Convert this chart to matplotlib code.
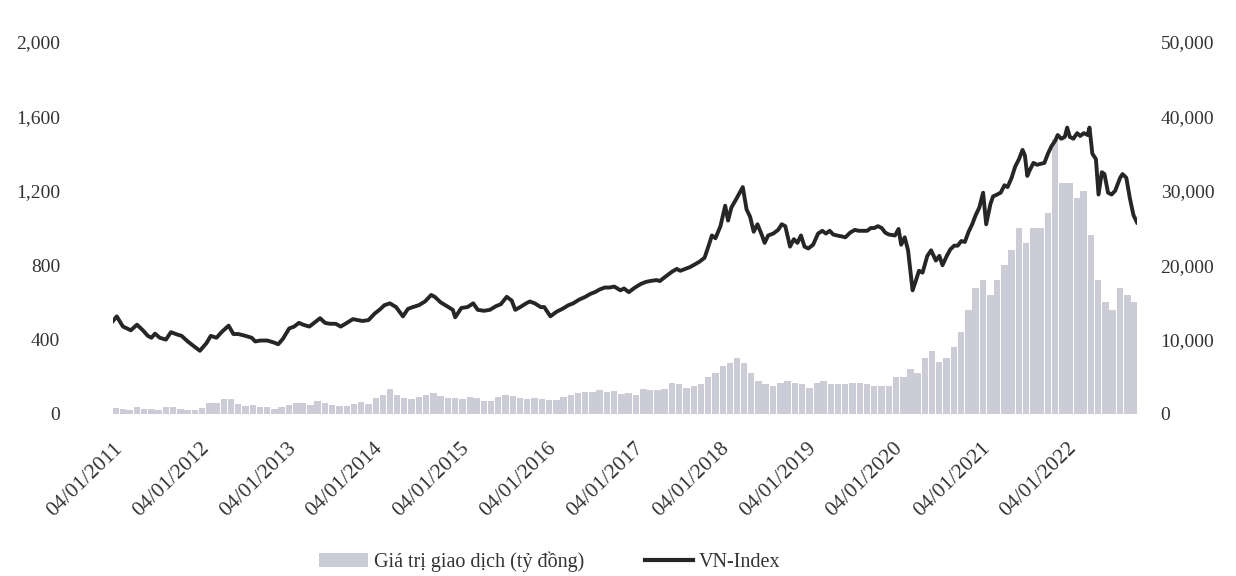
import pandas as pd
import matplotlib
matplotlib.use("Agg")
import matplotlib.pyplot as plt
import matplotlib.dates as mdates
from matplotlib.patches import Patch
from matplotlib.lines import Line2D

# VN-Index
index_dates = [
    "2011-01-04", "2011-01-20", "2011-02-15", "2011-03-01", "2011-03-20", "2011-04-15",
    "2011-05-10", "2011-05-31", "2011-06-15", "2011-06-30", "2011-07-20", "2011-08-15",
    "2011-09-05", "2011-09-30", "2011-10-20", "2011-11-15", "2011-12-15",
    "2012-01-05", "2012-02-01", "2012-02-20", "2012-03-15", "2012-04-05", "2012-05-05",
    "2012-05-25", "2012-06-15", "2012-07-15", "2012-08-10", "2012-08-25", "2012-09-15",
    "2012-10-15", "2012-11-10", "2012-11-30", "2012-12-20",
    "2013-01-15", "2013-02-05", "2013-02-25", "2013-03-15", "2013-04-10", "2013-05-10",
    "2013-05-25", "2013-06-15", "2013-07-05", "2013-07-30", "2013-08-20", "2013-09-15",
    "2013-10-10", "2013-10-30", "2013-11-20", "2013-12-15",
    "2014-01-10", "2014-01-30", "2014-02-20", "2014-03-15", "2014-04-10", "2014-05-09",
    "2014-05-30", "2014-06-20", "2014-07-15", "2014-08-10", "2014-09-05", "2014-09-20",
    "2014-10-15", "2014-11-10", "2014-12-05", "2014-12-15",
    "2015-01-10", "2015-02-05", "2015-03-01", "2015-03-20", "2015-04-15", "2015-05-10",
    "2015-06-05", "2015-06-25", "2015-07-20", "2015-08-10", "2015-08-25", "2015-09-15",
    "2015-10-10", "2015-10-25", "2015-11-15", "2015-12-10", "2015-12-25",
    "2016-01-20", "2016-02-15", "2016-03-10", "2016-04-05", "2016-04-25", "2016-05-20",
    "2016-06-15", "2016-07-05", "2016-07-25", "2016-08-15", "2016-09-05", "2016-09-25",
    "2016-10-15", "2016-11-10", "2016-11-25", "2016-12-15",
    "2017-01-10", "2017-02-05", "2017-02-25", "2017-03-15", "2017-04-10", "2017-04-25",
    "2017-05-20", "2017-06-15", "2017-07-05", "2017-07-20", "2017-08-10", "2017-08-30",
    "2017-09-20", "2017-10-10", "2017-10-30", "2017-11-15", "2017-11-30", "2017-12-15",
    "2018-01-05", "2018-01-25", "2018-02-06", "2018-02-20", "2018-03-10", "2018-04-09",
    "2018-04-25", "2018-05-10", "2018-05-25", "2018-06-10", "2018-06-29", "2018-07-10",
    "2018-07-25", "2018-08-15", "2018-09-05", "2018-09-20", "2018-10-05", "2018-10-25",
    "2018-11-10", "2018-11-25", "2018-12-10", "2018-12-25",
    "2019-01-10", "2019-01-30", "2019-02-20", "2019-03-10", "2019-03-25", "2019-04-10",
    "2019-04-25", "2019-05-10", "2019-05-30", "2019-06-15", "2019-07-05", "2019-07-25",
    "2019-08-10", "2019-08-30", "2019-09-15", "2019-09-30", "2019-10-15", "2019-10-30",
    "2019-11-15", "2019-11-30", "2019-12-15",
    "2020-01-10", "2020-01-25", "2020-02-05", "2020-02-20", "2020-03-05", "2020-03-24",
    "2020-04-05", "2020-04-20", "2020-05-05", "2020-05-25", "2020-06-10", "2020-06-30",
    "2020-07-15", "2020-07-28", "2020-08-15", "2020-08-30", "2020-09-15", "2020-09-30",
    "2020-10-15", "2020-10-30", "2020-11-15", "2020-11-30", "2020-12-15", "2020-12-30",
    "2021-01-15", "2021-01-28", "2021-02-15", "2021-02-26", "2021-03-15", "2021-03-30",
    "2021-04-15", "2021-04-28", "2021-05-15", "2021-05-30", "2021-06-15", "2021-06-30",
    "2021-07-10", "2021-07-20", "2021-07-30", "2021-08-15", "2021-08-30", "2021-09-15",
    "2021-09-30", "2021-10-15", "2021-10-30", "2021-11-15", "2021-11-25", "2021-12-10",
    "2021-12-25",
    "2022-01-04", "2022-01-15", "2022-01-30", "2022-02-15", "2022-02-28", "2022-03-15",
    "2022-03-31", "2022-04-08", "2022-04-20", "2022-05-05", "2022-05-16", "2022-05-30",
    "2022-06-10", "2022-06-25", "2022-07-10", "2022-07-25", "2022-08-15", "2022-08-25",
    "2022-09-10", "2022-09-25", "2022-10-10", "2022-10-25",
]
index_values = [
    500, 525, 470, 462, 450, 480, 450, 420, 410, 432, 410, 400, 440, 428, 420, 390, 360,
    340, 380, 420, 410, 440, 475, 430, 430, 420, 410, 390, 395, 395, 385, 375, 405,
    460, 470, 490, 480, 470, 500, 515, 490, 485, 485, 470, 490, 510, 505, 500, 505,
    540, 560, 585, 595, 575, 525, 565, 575, 585, 605, 640, 630, 600, 580, 560, 520,
    570, 575, 595, 560, 555, 560, 580, 590, 630, 610, 560, 575, 595, 605, 595, 575, 575,
    525, 550, 565, 585, 595, 615, 630, 645, 655, 670, 680, 680, 685, 665, 675, 655,
    680, 700, 710, 715, 720, 715, 740, 765, 780, 770, 780, 790, 805, 820, 840, 900, 960, 945,
    1010, 1120, 1040, 1110, 1150, 1220, 1100, 1060, 980, 1020, 960, 920, 960, 970, 990,
    1020, 1010, 900, 940, 920, 960, 900,
    890, 910, 970, 985, 970, 985, 965, 960, 955, 950, 975, 990, 985, 985, 985, 1000,
    1000, 1010, 1000, 975, 965,
    960, 995, 910, 950, 880, 665, 710, 770, 760, 850, 880, 825, 850, 800, 850, 885,
    905, 905, 930, 925, 980, 1020, 1070, 1110,
    1190, 1020, 1130, 1170, 1180, 1190, 1230, 1220, 1270, 1330, 1370, 1420, 1390, 1280,
    1310, 1350, 1340, 1345, 1350, 1400, 1440, 1470, 1500, 1480, 1490,
    1540, 1490, 1480, 1510, 1495, 1510, 1500, 1540, 1400, 1370, 1180, 1300, 1290, 1190,
    1180, 1200, 1270, 1290, 1270, 1160, 1070, 1030,
]

# Giá trị giao dịch (tỷ đồng), monthly from 01/2011
value_start = "2011-01-01"
trade_values = [
    800, 700, 600, 900, 700, 700, 600, 900, 1000, 700, 600, 600,
    800, 1500, 1500, 2000, 2000, 1300, 1100, 1200, 900, 900, 700, 1000,
    1200, 1500, 1500, 1200, 1700, 1500, 1200, 1100, 1100, 1400, 1600, 1300,
    2200, 2500, 3400, 2600, 2200, 2000, 2300, 2600, 2800, 2400, 2200, 2100,
    2000, 2300, 2200, 1800, 1700, 2300, 2600, 2400, 2100, 2000, 2200, 2000,
    1900, 1900, 2300, 2600, 2800, 2900, 3000, 3200, 3000, 3100, 2700, 2800,
    2600, 3300, 3200, 3200, 3400, 4200, 4000, 3500, 3700, 4000, 5000, 5500,
    6500, 6800, 7500, 6800, 5500, 4500, 4000, 3700, 4200, 4500, 4200, 4000,
    3500, 4200, 4500, 4000, 4000, 4000, 4200, 4200, 4000, 3800, 3800, 3800,
    5000, 5000, 6000, 5500, 7500, 8500, 7000, 7500, 9000, 11000, 14000, 17000,
    18000, 16000, 18000, 20000, 22000, 25000, 23000, 25000, 25000, 27000, 37000, 31000,
    31000, 29000, 30000, 24000, 18000, 15000, 14000, 17000, 16000, 15000,
]

year_ticks = ["%d-01-04" % y for y in range(2011, 2023)]

plt.rcParams['font.family'] = ['Liberation Serif', 'DejaVu Serif']

fig = plt.figure(figsize=(12.36, 5.76), dpi=100)
ax = fig.add_axes([0.0914, 0.28125, 0.8285, 0.6458])
ax2 = ax.twinx()
ax.set_zorder(ax2.get_zorder() + 1)
ax.patch.set_visible(False)

dates = pd.to_datetime(index_dates)
months = pd.date_range(value_start, periods=len(trade_values), freq="MS")

bar_color = "#cbccd6"
line_color = "#262626"

ax2.bar(months, trade_values, width=27, align="edge", color=bar_color,
        edgecolor="none")
ax.plot(dates, index_values, color=line_color, lw=2.8, solid_joinstyle="round")

ax.set_xlim(dates[0], dates[-1])
ax.set_ylim(0, 2000)
ax2.set_ylim(0, 50000)
ax.set_yticks([0, 400, 800, 1200, 1600, 2000])
ax2.set_yticks([0, 10000, 20000, 30000, 40000, 50000])
ax.yaxis.set_major_formatter(matplotlib.ticker.FuncFormatter(lambda v, p: f"{v:,.0f}"))
ax2.yaxis.set_major_formatter(matplotlib.ticker.FuncFormatter(lambda v, p: f"{v:,.0f}"))

ax.set_xticks(pd.to_datetime(year_ticks))
ax.xaxis.set_major_formatter(mdates.DateFormatter("%d/%m/%Y"))

for a in (ax, ax2):
    for s in a.spines.values():
        s.set_visible(False)

ax.tick_params(axis="y", length=0, pad=38, labelsize=14, labelcolor="#333333")
ax2.tick_params(axis="y", length=0, pad=17, labelsize=14, labelcolor="#333333")
ax.tick_params(axis="x", length=0, pad=18, labelsize=15.5, labelcolor="#333333")
for lbl in ax.get_xticklabels():
    lbl.set_rotation(44)
    lbl.set_ha("right")
    lbl.set_rotation_mode("anchor")

handles = [Patch(facecolor=bar_color, edgecolor="none"),
           Line2D([0], [0], color=line_color, lw=3)]
fig.legend(handles, ["Giá trị giao dịch (tỷ đồng)", "VN-Index"],
           loc="lower center", bbox_to_anchor=(0.445, -0.025), ncol=2,
           frameon=False, fontsize=14.5, columnspacing=3, handlelength=2.4,
           handletextpad=0.3, labelcolor="#333333")

fig.savefig("out.png", dpi=100)
